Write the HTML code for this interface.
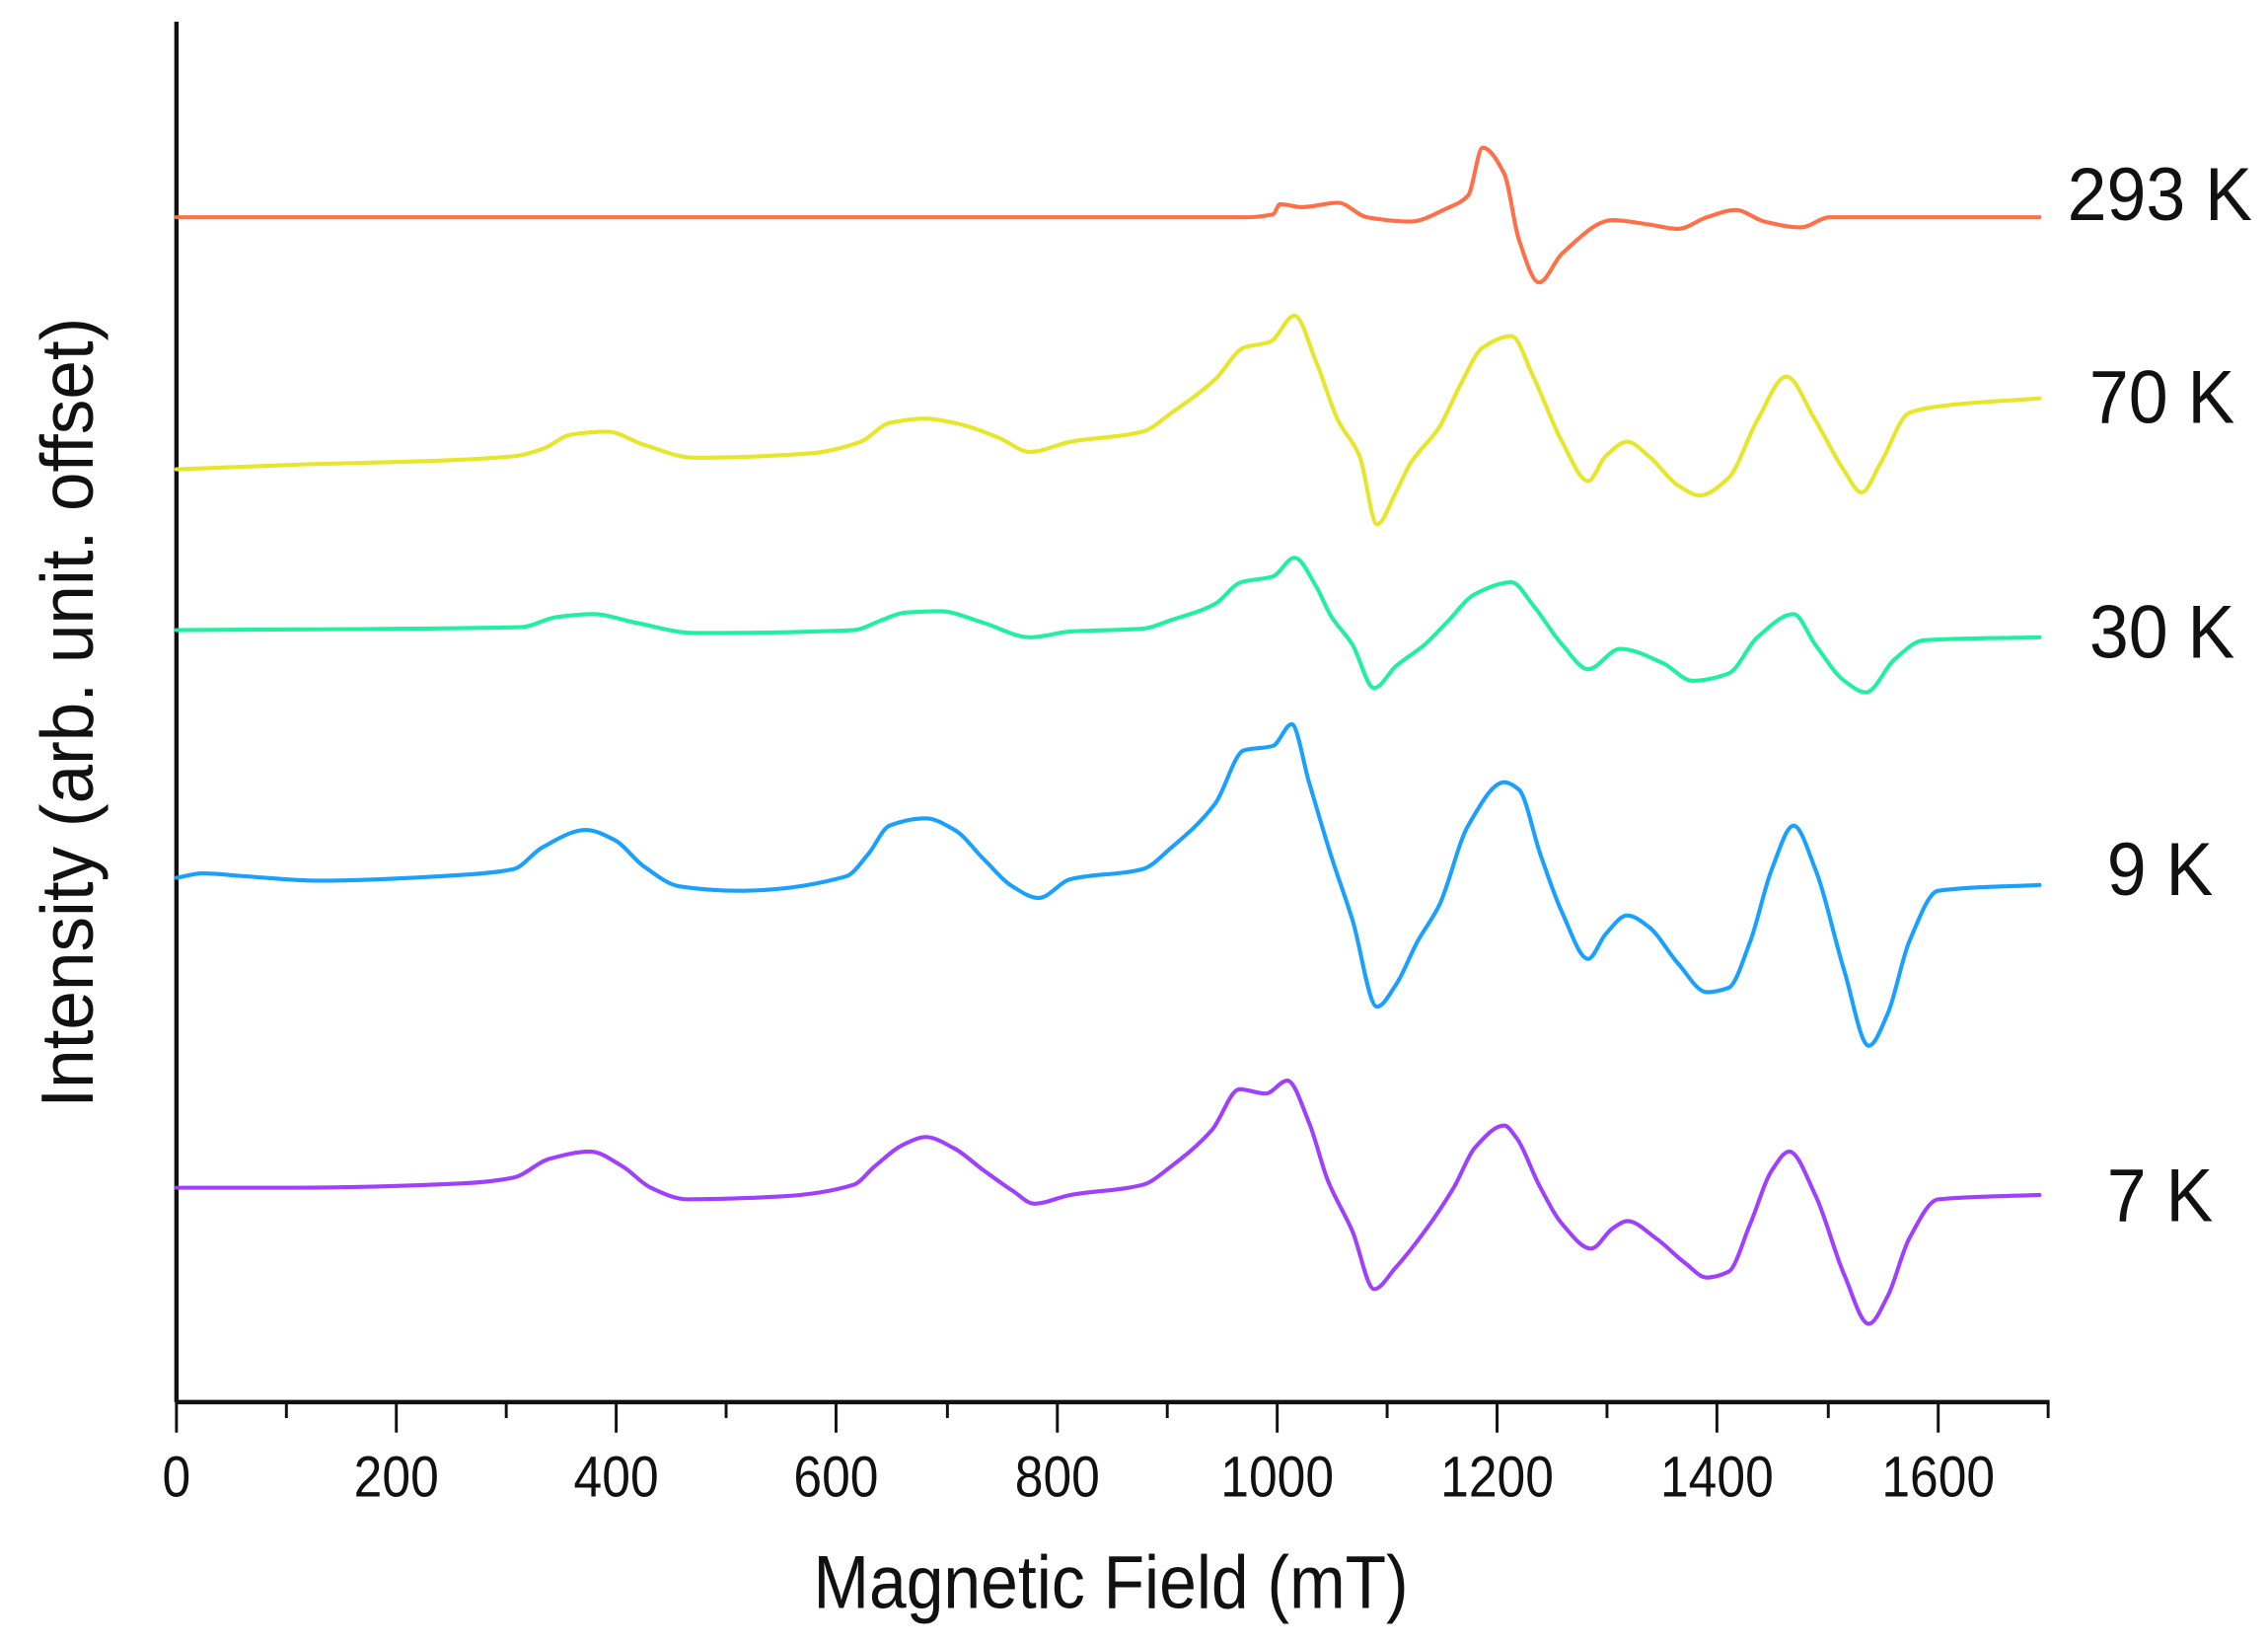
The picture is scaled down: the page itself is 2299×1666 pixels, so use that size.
<!DOCTYPE html>
<html><head><meta charset="utf-8"><style>
html,body{margin:0;padding:0;background:#fff;}
svg{display:block;}
text{font-family:"Liberation Sans",Arial,sans-serif;fill:#111;}
</style></head><body>
<svg width="2299" height="1666" viewBox="0 0 1568 1135" preserveAspectRatio="none" xmlns="http://www.w3.org/2000/svg">
<g stroke="#111" stroke-width="3" fill="none">
<line x1="122" y1="15" x2="122" y2="968"/>
<line x1="121" y1="968" x2="1417" y2="968"/>
<path d="M122 968v21M198 968v11M274 968v21M350 968v11M426 968v21M502 968v11M578 968v21M655 968v11M731 968v21M807 968v11M883 968v21M959 968v11M1035 968v21M1111 968v11M1187 968v21M1264 968v11M1340 968v21M1416 968v11" stroke-width="2"/>
</g>
<g font-size="40" text-anchor="middle">
<text transform="translate(122,1033) scale(0.88,1)">0</text>
<text transform="translate(274,1033) scale(0.88,1)">200</text>
<text transform="translate(426,1033) scale(0.88,1)">400</text>
<text transform="translate(578,1033) scale(0.88,1)">600</text>
<text transform="translate(731,1033) scale(0.88,1)">800</text>
<text transform="translate(883,1033) scale(0.88,1)">1000</text>
<text transform="translate(1035,1033) scale(0.88,1)">1200</text>
<text transform="translate(1187,1033) scale(0.88,1)">1400</text>
<text transform="translate(1340,1033) scale(0.88,1)">1600</text>
</g>
<text transform="translate(768,1110) scale(0.89,1)" font-size="52" text-anchor="middle">Magnetic Field (mT)</text>
<text transform="translate(64,492) rotate(-90) scale(0.95,1)" font-size="51" text-anchor="middle">Intensity (arb. unit. offset)</text>
<g font-size="52" text-anchor="end">
<text transform="translate(1557,152) scale(0.94,1)">293 K</text>
<text transform="translate(1545,292) scale(0.94,1)">70 K</text>
<text transform="translate(1545,454) scale(0.94,1)">30 K</text>
<text transform="translate(1530,618) scale(0.94,1)">9 K</text>
<text transform="translate(1530,843) scale(0.94,1)">7 K</text>
</g>
<g id="curves" fill="none" stroke-width="2.8" stroke-linejoin="round" stroke-linecap="round">
<polyline stroke="#ff7048" points="122,150 860,150 880,148 885,141 900,143 925,140 945,150 975,153 1000,144 1015,135 1025,102 1040,120 1050,165 1064,195 1080,175 1115,152 1140,155 1160,158 1180,150 1200,145 1220,153 1245,157 1265,150 1410,150"/>
<polyline stroke="#e6e62a" points="122,324 200,321 355,315 375,310 395,300 420,298 445,307 480,316 560,313 595,305 615,292 640,289 660,292 690,302 712,312 740,305 790,298 810,285 840,262 860,240 878,236 895,218 910,250 925,290 940,315 952,362 965,340 975,320 995,295 1010,265 1025,240 1045,232 1060,260 1080,305 1098,332 1110,315 1125,305 1140,315 1160,335 1175,342 1195,330 1215,290 1235,260 1255,290 1275,325 1287,340 1300,320 1320,285 1345,280 1410,275"/>
<polyline stroke="#20f0a0" points="122,435 360,433 385,426 410,424 440,430 480,437 590,435 610,428 625,423 650,422 680,430 712,440 740,436 790,434 810,428 840,417 858,402 880,398 895,385 910,405 920,425 935,445 950,475 965,460 985,445 1000,430 1020,410 1045,402 1060,418 1080,445 1098,462 1120,448 1150,458 1170,470 1195,465 1215,440 1240,424 1255,445 1275,470 1290,478 1310,455 1330,442 1410,440"/>
<polyline stroke="#1aa0ff" points="122,606 140,603 170,605 220,608 320,604 355,600 375,585 405,573 425,580 445,598 470,612 510,615 585,605 600,590 615,570 640,565 660,573 680,593 700,612 718,620 740,607 790,600 810,585 840,555 860,518 880,515 893,500 905,540 920,590 935,635 952,695 965,680 980,650 995,625 1015,570 1040,540 1050,545 1065,590 1080,630 1098,662 1110,645 1125,632 1140,640 1160,665 1180,685 1195,682 1210,650 1225,600 1240,570 1255,600 1275,670 1292,722 1305,700 1320,650 1340,615 1410,611"/>
<polyline stroke="#a040ff" points="122,820 200,820 320,817 355,813 380,800 408,795 430,805 450,820 475,828 540,826 590,818 605,805 625,790 640,785 660,793 680,808 700,822 715,831 740,825 790,818 810,805 838,780 857,752 875,755 890,746 905,775 918,815 935,850 950,890 965,875 985,850 1005,820 1020,792 1040,777 1048,785 1065,820 1080,845 1100,862 1115,848 1125,843 1145,855 1165,872 1180,882 1195,878 1210,845 1225,808 1237,795 1255,825 1275,880 1292,914 1305,895 1320,855 1340,828 1410,825"/>
</g>
</svg>
<script>
(function(){
var NS="http://www.w3.org/2000/svg";
var pls=document.querySelectorAll("#curves polyline");
for(var i=0;i<pls.length;i++){
 var pl=pls[i];
 var p=pl.getAttribute("points").trim().split(/\s+/).map(function(s){var a=s.split(",");return [+a[0],+a[1]];});
 var n=p.length,d=[],m=[];
 for(var k=0;k<n-1;k++)d.push((p[k+1][1]-p[k][1])/(p[k+1][0]-p[k][0]));
 m[0]=d[0];m[n-1]=d[n-2];
 for(var k=1;k<n-1;k++){
  if(d[k-1]*d[k]<=0)m[k]=0;
  else{var h0=p[k][0]-p[k-1][0],h1=p[k+1][0]-p[k][0];m[k]=3*(h0+h1)/((2*h1+h0)/d[k-1]+(h1+2*h0)/d[k]);}
 }
 var s="M"+p[0][0]+","+p[0][1];
 for(var k=0;k<n-1;k++){
  var h=(p[k+1][0]-p[k][0])/3;
  s+=" C"+(p[k][0]+h).toFixed(1)+","+(p[k][1]+m[k]*h).toFixed(1)+" "+(p[k+1][0]-h).toFixed(1)+","+(p[k+1][1]-m[k+1]*h).toFixed(1)+" "+p[k+1][0]+","+p[k+1][1];
 }
 var path=document.createElementNS(NS,"path");
 path.setAttribute("d",s);path.setAttribute("stroke",pl.getAttribute("stroke"));
 pl.parentNode.replaceChild(path,pl);
}
})();
</script>
</body></html>
